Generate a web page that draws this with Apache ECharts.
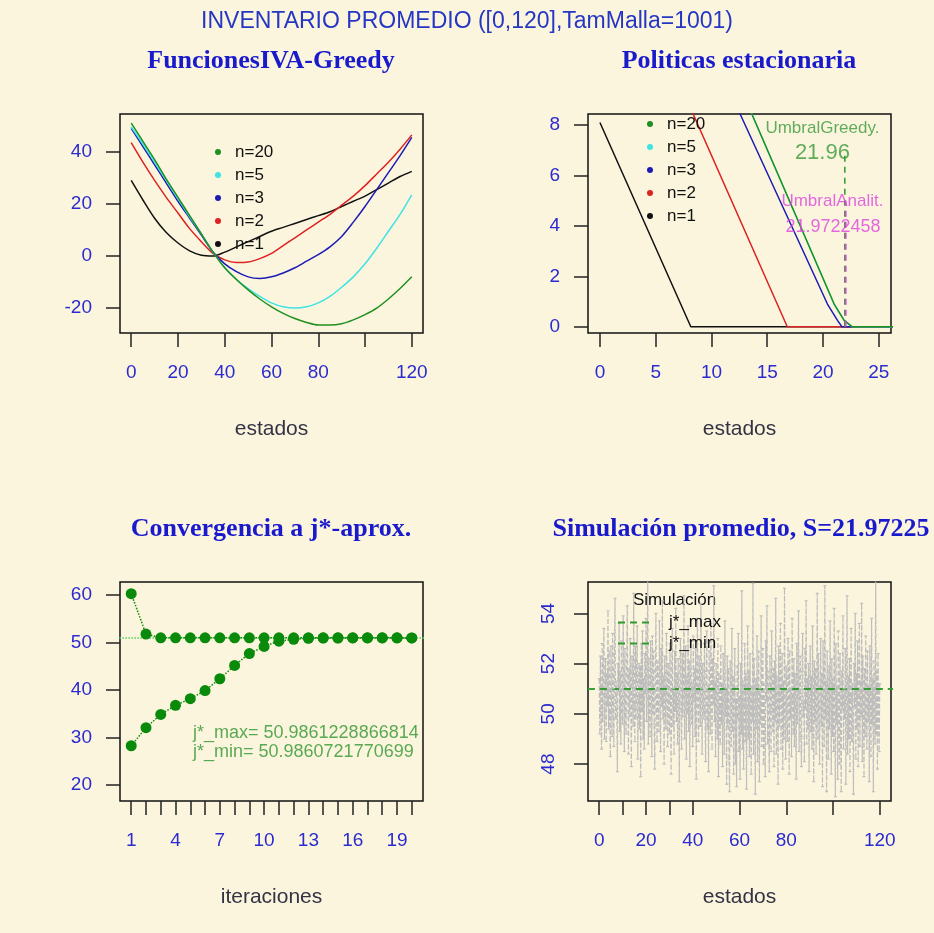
<!DOCTYPE html>
<html>
<head>
<meta charset="utf-8">
<script src="https://cdn.jsdelivr.net/npm/echarts@6/dist/echarts.min.js"></script>
<style>
html,body{margin:0;padding:0;background:#fcf5de;}
#chart{width:934px;height:933px;}
</style>
</head>
<body>
<div id="chart"></div>
<script>
// ---- panel 1: funciones IVA greedy ----
var estados = [0,5,10,15,20,25,30,35,40,45,50,55,60,65,70,75,80,85,90,95,100,105,110,115,120];
var vN20 = [51,44,37,29.5,22.5,15.5,8.5,1.5,-4.5,-9,-13,-16.5,-19.5,-22,-24,-25.5,-26.5,-26.5,-26,-24.5,-22.5,-20,-16.5,-12.5,-8];
var vN5  = [49.5,43,36,29,22,15,8.5,1.5,-4.5,-9,-12.5,-15.5,-18,-19.5,-20,-19.5,-18,-15.5,-12,-8,-3,3,9.5,16,23.5];
var vN3  = [49,42,35,28,21,14.5,8,1.5,-3,-6,-8,-8.6,-8,-6.5,-4.5,-2,0.5,3.5,7.5,13,19,25.5,32,38.5,45.5];
var vN2  = [43.5,36,29,22.5,16.5,10.5,5.5,1,-1.5,-2.5,-2.3,-1,1,4,7,10,13,16,19.5,23,27,31.5,36,41,46.5];
var vN1  = [29,21.5,14.5,9,5,2,0.3,0,1.5,3.5,5.5,7.5,9.5,11,12.5,14,15.5,17,19,21,23,25.5,28,30.5,32.5];

// ---- panel 2: politicas estacionarias (x, y) ----
var polN1  = [[0,8.1],[8.15,0],[27,0]];
var polN2  = [[0,16.8],[16.8,0],[27,0]];
var polN3  = [[10,11.0],[12.58,8.43],[20.4,0.9],[21.3,0.25],[21.7,0],[27,0]];
var polN5  = [[11,11.0],[13.63,8.43],[21.0,0.9],[21.9,0.25],[22.6,0],[27,0]];
var polN20 = [[11,11.0],[13.63,8.43],[21.0,0.9],[21.9,0.25],[22.6,0],[27,0]];
var umbralGreedy = 21.96;
var umbralAnalit = 21.9722458;

// ---- panel 3: convergencia ----
var iteraciones = [1,2,3,4,5,6,7,8,9,10,11,12,13,14,15,16,17,18,19,20];
var jMaxIter = [60.3,51.8,51.0,51.0,51.0,51.0,51.0,51.0,51.0,51.0,51.0,51.0,51.0,51.0,51.0,51.0,51.0,51.0,51.0,50.99];
var jMinIter = [28.3,32.1,34.9,36.8,38.2,39.9,42.4,45.2,47.7,49.2,50.3,50.7,50.9,50.95,50.97,50.98,50.98,50.99,50.99,50.99];
var jMax = 50.9861228866814;
var jMin = 50.9860721770699;

// ---- panel 4: simulacion (one value every 0.25 from 0 to 120) ----
var simPaso = 0.25;
var simValores = [
51.4,49.2,52.3,50.1,48.6,52.8,49.7,51.9,53.4,49.0,50.8,52.2,48.9,51.6,50.3,54.1,49.4,52.5,50.0,48.3,
52.7,50.6,49.1,53.2,51.0,48.7,52.4,54.6,49.8,51.3,50.2,47.7,52.0,50.9,53.6,49.3,51.7,48.8,52.9,50.4,
49.6,53.9,51.1,48.5,52.6,50.0,49.2,52.1,54.3,50.7,48.4,51.8,49.9,53.0,50.5,47.9,52.3,51.2,49.5,54.8,
50.3,48.9,52.7,49.8,51.5,53.5,48.2,50.6,52.0,49.4,51.9,47.5,52.8,50.1,53.3,49.0,51.4,48.6,52.4,50.8,
53.8,49.7,51.0,55.6,48.8,52.2,50.4,49.1,52.9,51.3,48.3,53.1,50.0,52.5,49.6,47.8,51.7,54.0,50.2,48.9,
52.1,50.7,49.3,53.7,51.2,48.5,52.6,50.3,54.5,49.8,51.5,48.0,52.3,50.9,49.4,53.2,51.1,48.7,52.0,50.5,
49.2,52.8,50.6,47.6,51.8,53.4,49.5,51.0,48.4,52.5,50.1,54.2,49.7,51.6,48.8,52.2,50.4,47.3,51.9,53.0,
50.2,48.6,52.4,49.9,51.3,54.7,49.0,50.8,52.7,48.2,51.5,50.0,53.5,49.3,52.1,47.9,50.7,52.9,49.6,51.2,
48.7,53.1,50.5,51.8,49.1,52.6,47.4,51.4,53.8,50.3,48.9,52.3,50.9,49.5,54.4,51.0,48.4,52.0,50.6,49.8,
52.8,50.1,48.1,51.7,53.3,49.4,51.1,47.7,52.5,50.7,49.2,53.6,51.5,48.6,52.2,50.4,55.1,49.7,51.3,48.3,
52.0,50.8,49.0,53.0,47.5,51.6,50.2,48.8,52.7,49.6,51.2,47.9,52.4,50.5,48.4,53.7,49.9,51.0,47.2,52.3,
49.5,51.8,48.2,46.9,52.1,50.3,48.7,53.4,49.3,51.5,47.6,50.9,52.6,48.0,50.6,47.1,51.9,49.8,53.2,48.5,
50.7,47.4,52.0,49.2,54.9,48.6,51.3,47.8,50.4,52.8,48.9,51.6,47.0,50.1,53.5,49.0,51.7,48.3,52.4,50.0,
47.6,51.1,49.7,55.2,48.4,52.2,50.6,46.8,51.4,49.4,53.1,48.1,50.8,52.5,47.3,51.0,49.6,53.9,48.7,50.3,
52.6,48.0,51.2,49.9,47.5,52.9,50.5,54.3,48.8,51.7,49.1,47.7,52.3,50.2,48.5,53.3,50.9,49.3,51.8,47.9,
52.1,49.7,54.6,48.4,51.5,50.0,47.2,52.7,49.5,51.1,53.6,48.6,50.7,52.4,47.8,51.3,49.0,55.0,50.4,48.2,
51.9,50.1,48.9,53.0,51.4,47.6,52.5,49.8,51.0,48.3,53.8,50.6,49.2,52.2,48.7,51.6,50.3,47.4,52.8,49.6,
51.2,54.1,48.5,50.8,52.3,49.1,47.9,51.7,53.2,49.9,50.5,48.1,52.6,50.2,54.5,48.8,51.4,49.4,52.0,47.7,
50.9,52.7,49.3,51.5,48.6,53.5,50.0,47.3,52.1,49.7,51.8,48.4,50.6,54.8,49.0,52.4,50.3,48.0,51.1,53.0,
49.5,51.6,47.1,52.9,50.4,48.7,55.1,49.8,51.3,46.9,52.5,50.1,48.2,51.9,49.4,53.7,50.7,47.6,52.2,49.1,
51.4,48.5,54.2,50.0,46.7,52.8,49.6,51.1,47.4,53.3,50.5,48.0,52.4,49.2,46.9,51.7,50.2,53.9,48.6,51.0,
49.8,52.6,47.2,50.9,54.7,48.4,51.5,49.0,52.2,47.7,50.6,53.4,48.9,51.2,49.5,46.8,52.0,50.3,54.0,48.2,
51.6,49.4,52.9,47.9,50.8,53.6,48.7,51.3,49.9,54.4,48.1,52.3,50.5,47.5,51.8,49.1,53.1,50.0,48.6,52.5,
49.7,51.1,47.3,52.7,50.2,48.3,53.8,49.6,51.4,46.9,52.1,50.6,48.8,55.3,49.2,51.7,47.8,52.4,50.1,48.5,
51.2
];

var SANS = '"Liberation Sans", Arial, sans-serif';
var SERIF = '"Liberation Serif", "Times New Roman", serif';
var AZUL = '#2b2bcf';

function zip(xs, ys) {
    return xs.map(function (x, i) { return [x, ys[i]]; });
}

function ejeX(g, min, max, ticks, labels, name) {
    return {
        type: 'value', gridIndex: g, min: min, max: max,
        name: name, nameLocation: 'middle', nameGap: 86,
        nameTextStyle: { color: '#333344', fontSize: 21, fontFamily: SANS },
        axisLine: { show: false, onZero: false }, splitLine: { show: false },
        axisTick: { show: true, length: 14, customValues: ticks, lineStyle: { color: '#222', width: 1.5 } },
        axisLabel: { customValues: labels, margin: 30, color: AZUL, fontSize: 19, fontFamily: SANS }
    };
}

function ejeY(g, min, max, ticks, rot) {
    return {
        type: 'value', gridIndex: g, min: min, max: max,
        axisLine: { show: false, onZero: false }, splitLine: { show: false },
        axisTick: { show: true, length: 14, customValues: ticks, lineStyle: { color: '#222', width: 1.5 } },
        axisLabel: { customValues: ticks, margin: rot ? 30 : 28, rotate: rot || 0, color: AZUL, fontSize: 19, fontFamily: SANS }
    };
}

function linea(name, g, data, color, extra) {
    var s = {
        name: name, type: 'line', xAxisIndex: g, yAxisIndex: g, data: data,
        symbol: 'none', color: color,
        lineStyle: { color: color, width: 1.5 }
    };
    for (var k in extra) s[k] = extra[k];
    return s;
}

function texto(g, x, y, txt, color, size, pos) {
    return {
        type: 'scatter', xAxisIndex: g, yAxisIndex: g, data: [[x, y]],
        symbolSize: 1, itemStyle: { color: 'rgba(0,0,0,0)' }, z: 10, silent: true,
        label: { show: true, position: pos || 'inside', distance: 0, formatter: txt,
                 color: color, fontSize: size, fontFamily: SANS }
    };
}

var grid = function (l, t) {
    return { left: l, top: t, width: 303, height: 219, show: true,
             borderColor: '#111', borderWidth: 1.5, backgroundColor: 'transparent' };
};

var chart = echarts.init(document.getElementById('chart'));

var suave = { smooth: 0.3 };

var series = [
    linea('n=1', 0, zip(estados, vN1), '#111111', suave),
    linea('n=2', 0, zip(estados, vN2), '#dd2222', suave),
    linea('n=3', 0, zip(estados, vN3), '#1c1cb4', suave),
    linea('n=5', 0, zip(estados, vN5), '#3fe3e3', suave),
    linea('n=20', 0, zip(estados, vN20), '#1f8f1f', suave),

    linea('n=1', 1, polN1, '#111111'),
    linea('n=2', 1, polN2, '#dd2222'),
    linea('n=3', 1, polN3, '#1c1cb4'),
    linea('n=5', 1, polN5, '#3fe3e3'),
    linea('n=20', 1, polN20, '#1f8f1f'),
    linea('ug', 1, [[umbralGreedy, 0], [umbralGreedy, 6.8]], '#2a9a2a', { lineStyle: { color: '#2a9a2a', width: 1.5, type: [6, 5] } }),
    linea('ua', 1, [[umbralAnalit + 0.08, 0], [umbralAnalit + 0.08, 5.0]], '#e040e0', { lineStyle: { color: '#e040e0', width: 1.5, type: [6, 5] } }),
    texto(1, 19.95, 7.88, 'UmbralGreedy.', '#3a9a3a', 17),
    texto(1, 19.95, 6.89, String(umbralGreedy), '#3a9a3a', 22),
    texto(1, 20.85, 4.96, 'UmbralAnalit.', '#dd44dd', 17),
    texto(1, 20.9, 3.97, String(umbralAnalit), '#dd44dd', 18),

    linea('jref', 2, [[0, jMax], [21, jMax]], '#55d455', { lineStyle: { color: '#55d455', width: 1.5, type: 'dotted' } }),
    linea('jmaxit', 2, zip(iteraciones, jMaxIter), '#0a8a0a', { symbol: 'circle', symbolSize: 11, lineStyle: { color: '#0a8a0a', width: 1.5, type: 'dotted' } }),
    linea('jminit', 2, zip(iteraciones, jMinIter), '#0a8a0a', { symbol: 'circle', symbolSize: 11, lineStyle: { color: '#0a8a0a', width: 1.5, type: 'dotted' } }),
    texto(2, 5.15, 31.0, 'j*_max= ' + String(jMax), '#2f962f', 18, 'right'),
    texto(2, 5.15, 27.0, 'j*_min= ' + String(jMin), '#2f962f', 18, 'right'),

    linea('Simulación', 3, simValores.map(function (v, i) { return [i * simPaso, v]; }), '#bdbdbd',
          { symbol: 'rect', symbolSize: [3, 1.2], lineStyle: { color: '#bdbdbd', width: 1.2, type: [5, 2] } }),
    linea('j*_max', 3, [[-10, jMax], [130, jMax]], '#2e9b2e', { lineStyle: { color: '#2e9b2e', width: 1.5, type: [7, 5] } }),
    linea('j*_min', 3, [[-10, jMin], [130, jMin]], '#2e9b2e', { lineStyle: { color: '#2e9b2e', width: 1.5, type: [7, 5] } })
];

var legendaN = function (l, t) {
    return {
        orient: 'vertical', left: l, top: t, padding: 0, itemGap: 6,
        itemWidth: 6, itemHeight: 6, icon: 'circle', selectedMode: false,
        data: ['n=20', 'n=5', 'n=3', 'n=2', 'n=1'],
        textStyle: { color: '#111', fontSize: 17, lineHeight: 17, fontFamily: SANS, padding: [0, 0, 0, 9] }
    };
};

chart.setOption({
    animation: false,
    backgroundColor: '#fcf5de',
    title: [
        { text: 'INVENTARIO PROMEDIO ([0,120],TamMalla=1001)', left: 467, top: 10, padding: 0, textAlign: 'center',
          textStyle: { color: '#2536c4', fontSize: 23, fontWeight: 'normal', fontFamily: SANS } },
        { text: 'FuncionesIVA-Greedy', left: 271, top: 48, padding: 0, textAlign: 'center',
          textStyle: { color: '#1a1acd', fontSize: 26, fontWeight: 'bold', fontFamily: SERIF } },
        { text: 'Politicas estacionaria', left: 739, top: 48, padding: 0, textAlign: 'center',
          textStyle: { color: '#1a1acd', fontSize: 26, fontWeight: 'bold', fontFamily: SERIF } },
        { text: 'Convergencia a j*-aprox.', left: 271, top: 516, padding: 0, textAlign: 'center',
          textStyle: { color: '#1a1acd', fontSize: 26, fontWeight: 'bold', fontFamily: SERIF } },
        { text: 'Simulación promedio, S=21.97225', left: 741, top: 516, padding: 0, textAlign: 'center',
          textStyle: { color: '#1a1acd', fontSize: 26, fontWeight: 'bold', fontFamily: SERIF } }
    ],
    grid: [grid(120, 114), grid(588, 114), grid(120, 582), grid(588, 582)],
    xAxis: [
        ejeX(0, -4.8, 124.8, [0, 20, 40, 60, 80, 100, 120], [0, 20, 40, 60, 80, 120], 'estados'),
        ejeX(1, -1.07, 26.1, [0, 5, 10, 15, 20, 25], [0, 5, 10, 15, 20, 25], 'estados'),
        ejeX(2, 0.24, 20.76, iteraciones, [1, 4, 7, 10, 13, 16, 19], 'iteraciones'),
        ejeX(3, -4.8, 124.8, [0, 10, 20, 30, 40, 60, 80, 100, 120], [0, 20, 40, 60, 80, 120], 'estados')
    ],
    yAxis: [
        ejeY(0, -29.55, 54.5, [-20, 0, 20, 40]),
        ejeY(1, -0.25, 8.44, [0, 2, 4, 6, 8]),
        ejeY(2, 16.68, 62.75, [20, 30, 40, 50, 60]),
        ejeY(3, 46.53, 55.25, [48, 50, 52, 54], 90)
    ],
    legend: [
        legendaN(215, 143.5),
        legendaN(647, 115.5),
        { orient: 'vertical', left: 617, top: 614, padding: 0, itemGap: 4,
          itemWidth: 35, itemHeight: 14, selectedMode: false,
          itemStyle: { opacity: 0 },
          data: ['j*_max', 'j*_min'],
          textStyle: { color: '#111', fontSize: 17, lineHeight: 17, fontFamily: SANS, padding: [0, 0, 0, 11] } }
    ],
    graphic: [
        { type: 'text', left: 633, top: 592, silent: true,
          style: { text: 'Simulación', fill: '#111', font: '17px ' + SANS } }
    ],
    series: series
});
</script>
</body>
</html>
